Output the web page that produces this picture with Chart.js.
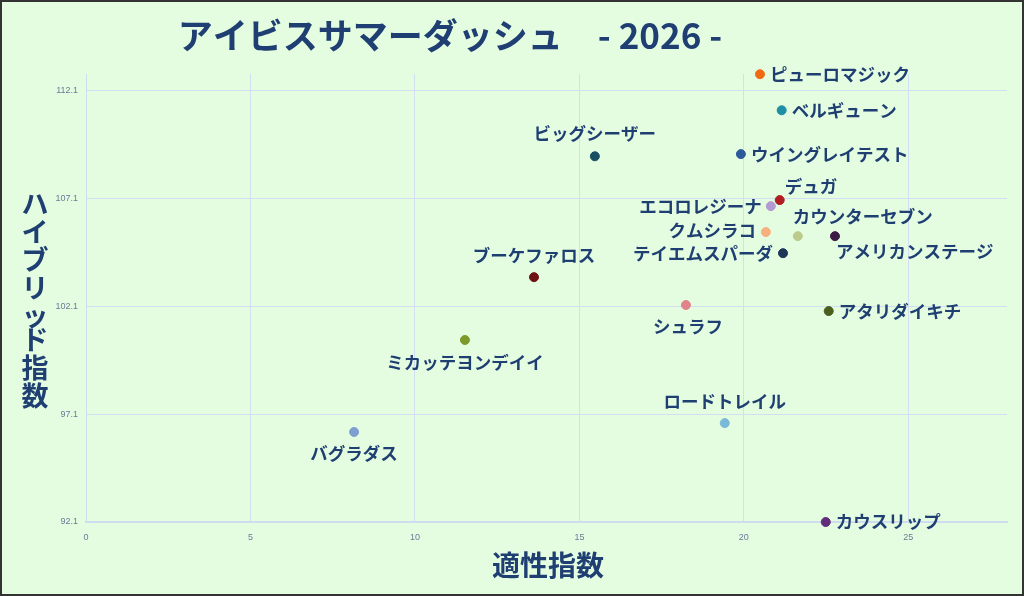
<!DOCTYPE html>
<html><head><meta charset="utf-8">
<script src="https://cdn.jsdelivr.net/npm/chart.js@4"></script>
<style>
html,body{margin:0;padding:0;background:#fff;}
#wrap{position:relative;width:1024px;height:596px;box-sizing:border-box;border:2px solid #333;background:#e4fde0;}
canvas{display:block;}
</style></head><body>
<div id="wrap"><canvas id="c" width="1020" height="592"></canvas></div>
<script>
const names = ["ピューロマジック","ベルギューン","ビッグシーザー","ウイングレイテスト","デュガ","エコロレジーナ","クムシラコ","カウンターセブン","アメリカンステージ","テイエムスパーダ","ブーケファロス","シュラフ","アタリダイキチ","ミカッテヨンデイイ","ロードトレイル","バグラダス","カウスリップ"];
const aptitude = [20.49,21.15,15.47,19.91,21.09,20.82,20.67,21.64,22.77,21.19,13.62,18.24,22.58,11.52,19.42,8.15,22.49];
const hybrid = [112.84,111.17,109.04,109.14,107.01,106.73,105.53,105.34,105.34,104.55,103.44,102.15,101.87,100.53,96.68,96.27,92.1];
const yTicks = [92.1,97.1,102.1,107.1,112.1];
const xTicks = [0,5,10,15,20,25];
const chartTitle = "アイビスサマーダッシュ　- 2026 -";
const xTitle = "適性指数";
const yTitle = "ハイブリッド指数";

// styling
const colors = ["#f26a12","#1f8fa5","#1a4f63","#2d5a9a","#b01e24","#b39ad0","#f6b07e","#bccb8c","#3b1b45","#1d3557","#6e1414","#e0848a","#4a5e1e","#7c9a2a","#7ab8d8","#7f9fd0","#5f2d7a"];
// label offsets [dx, dy, align]
const labelPos = [[10,0,"left"],[10,0,"left"],[0,-23,"center"],[10,0,"left"],[5,-14,"left"],[-9,0,"right"],[-10,-2,"right"],[-5,-20,"left"],[1,15,"left"],[-10,0,"right"],[0,-22,"center"],[2,21,"center"],[10,0,"left"],[0,22,"center"],[0,-22,"center"],[0,21,"center"],[10,-1,"left"]];
const navy = "#1f3f73";

const labelPlugin = {
  id:"labels",
  afterDatasetsDraw(chart){
    const ctx = chart.ctx;
    const meta = chart.getDatasetMeta(0);
    ctx.save();
    ctx.font = "bold 17.5px 'Noto Sans CJK JP'";
    ctx.fillStyle = navy;
    ctx.textBaseline = "middle";
    meta.data.forEach((pt,i)=>{
      const p = labelPos[i];
      ctx.textAlign = p[2];
      ctx.fillText(names[i], pt.x+p[0], pt.y+p[1]);
    });
    ctx.font = "bold 35px 'Noto Sans CJK JP'";
    ctx.textAlign = "center";
    ctx.fillText(chartTitle, 448, 34);
    ctx.font = "bold 28px 'Noto Sans CJK JP'";
    ctx.fillText(xTitle, 546, 563);
    ctx.font = "bold 27px 'Noto Sans CJK JP'";
    const chars = [...yTitle];
    let y = 202;
    chars.forEach(ch=>{ ctx.fillText(ch, 33, y); y += (ch==="ッ"?24:28); });
    ctx.restore();
  }
};

new Chart(document.getElementById("c"),{
  type:"scatter",
  data:{datasets:[{
    data: aptitude.map((x,i)=>({x, y:hybrid[i]})),
    backgroundColor: colors, borderColor: colors,
    pointRadius:4.5, pointHoverRadius:4.5, clip:false
  }]},
  options:{
    responsive:false, animation:false,
    layout:{padding:{top:72,right:15,left:0,bottom:0}},
    plugins:{legend:{display:false},tooltip:{enabled:false}},
    scales:{
      x:{type:"linear",min:0,max:28,
        afterFit(s){s.height=72;},
        afterBuildTicks(s){s.ticks=xTicks.map(v=>({value:v}));},
        grid:{color:"#d3def2",drawTicks:false},
        border:{color:"#cfdcf0",width:2},
        ticks:{color:"#6a7a99",font:{size:9},padding:10}},
      y:{type:"linear",min:92.1,max:112.85,
        afterFit(s){s.width=84;},
        afterBuildTicks(s){s.ticks=yTicks.map(v=>({value:v}));},
        grid:{color:"#d3def2",drawTicks:false},
        border:{color:"#cfdcf0",width:1},
        ticks:{color:"#6a7a99",font:{size:9},padding:8,callback:v=>v.toFixed(1)}}
    }
  },
  plugins:[labelPlugin]
});
</script></body></html>
